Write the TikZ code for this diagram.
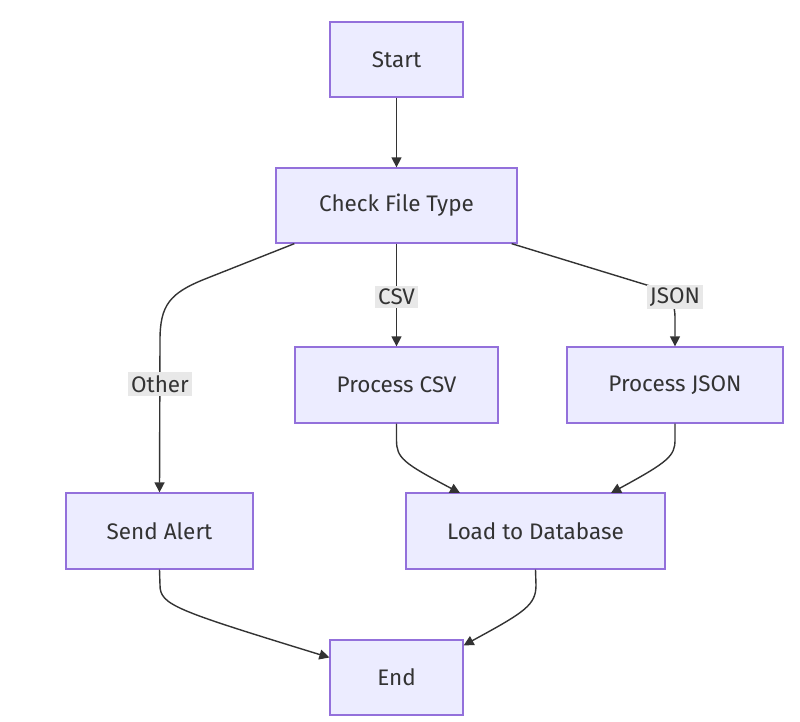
\documentclass[tikz,border=0pt]{standalone}
\usepackage{fontspec}
\setmainfont{Fira Sans}
\usetikzlibrary{arrows.meta,calc}
\definecolor{boxfill}{HTML}{ECECFF}
\definecolor{boxline}{HTML}{9370DB}
\definecolor{ink}{HTML}{333333}
\definecolor{tagfill}{HTML}{E8E8E8}
\tikzset{
  stepbox/.style={draw=boxline, fill=boxfill, line width=1.3pt, text=ink,
    inner sep=0pt, font=\fontsize{22.5}{27}\selectfont},
  flow/.style={draw=ink, line width=1.4pt, -{Triangle[length=10pt,width=10pt]}},
  tag/.style={fill=tagfill, text=ink, inner sep=3pt, font=\fontsize{22.5}{27}\selectfont}
}
\begin{document}
\begin{tikzpicture}[x=1pt,y=-1pt]
\useasboundingbox (0,0) rectangle (800,721);
\fill[white] (0,0) rectangle (800,721);

% boxes
\node[stepbox, minimum width=133pt, minimum height=75pt] (start) at (396.5,59.5) {Start};
\node[stepbox, minimum width=241pt, minimum height=75pt] (check) at (396.5,205.5) {Check File Type};
\node[stepbox, minimum width=203pt, minimum height=76pt] (csv) at (396.5,385) {Process CSV};
\node[stepbox, minimum width=216pt, minimum height=76pt] (json) at (675,385) {Process JSON};
\node[stepbox, minimum width=187pt, minimum height=76pt] (alert) at (159.5,531) {Send Alert};
\node[stepbox, minimum width=259pt, minimum height=76pt] (load) at (535.5,531) {Load to Database};
\node[stepbox, minimum width=133pt, minimum height=75pt] (end) at (396.5,677.5) {End};

% connectors
\draw[flow] (start) -- (check);
\draw[flow] (check.south) -- (csv.north) node[tag, pos=0.52] {CSV};

\coordinate (jsonout) at ($(check.south east)+(-6,0)$);
\draw[flow] (jsonout) -- (650,286) .. controls (668,292) and (675,300) .. (675,318) -- (json.north);
\node[tag] at (675,297) {JSON};

\coordinate (otherout) at ($(check.south west)+(19,0)$);
\draw[flow] (otherout) -- (205,279) .. controls (170,293) and (160,305) .. (160,340) -- (alert.north);
\node[tag] at (160,384) {Other};

\coordinate (loadin1) at (460,493);
\coordinate (loadin2) at (611,493);
\draw[flow] (csv.south) -- (396.5,440) .. controls (396.5,458) and (403,463) .. (loadin1);
\draw[flow] (json.south) -- (675,440) .. controls (675,456) and (668,462) .. (loadin2);

\coordinate (endin1) at ($(end.west)+(0,-20)$);
\coordinate (endin2) at ($(end.north east)+(0,6)$);
\draw[flow] (alert.south) -- (160,585) .. controls (160,605) and (175,610) .. (endin1);
\draw[flow] (load.south) -- (536,585) .. controls (536,605) and (525,612) .. (endin2);
\end{tikzpicture}
\end{document}
